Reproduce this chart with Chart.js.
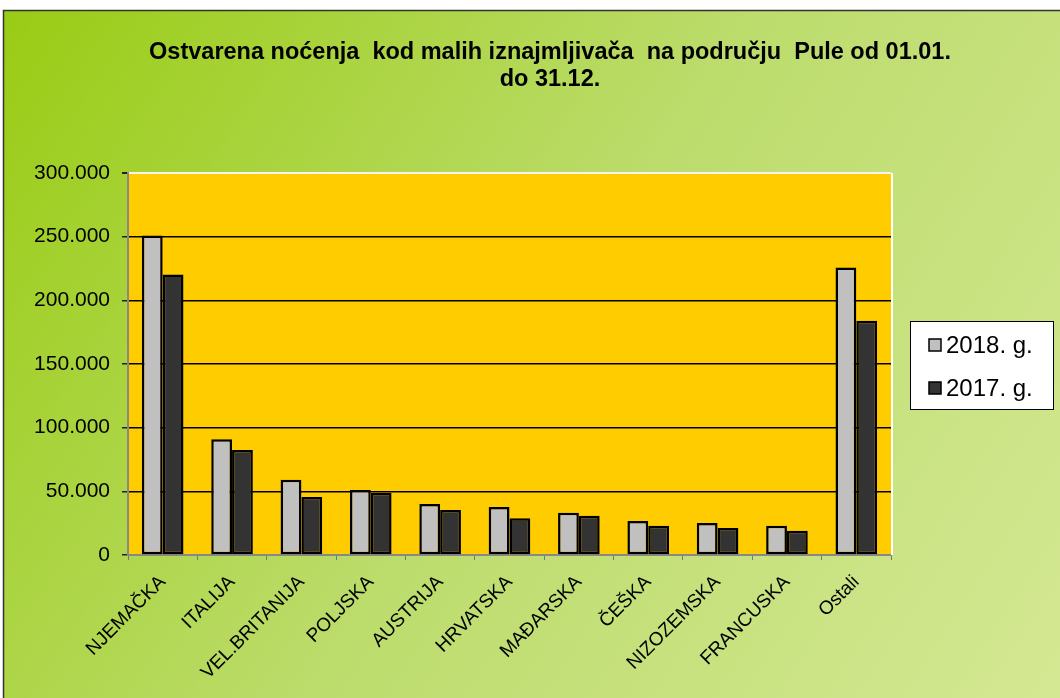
<!DOCTYPE html>
<html>
<head>
<meta charset="utf-8">
<script src="https://cdn.jsdelivr.net/npm/chart.js@4/dist/chart.umd.min.js"></script>
<style>
  html, body { margin: 0; padding: 0; background: #fff; }
  canvas { display: block; }
</style>
</head>
<body>
<canvas id="nocenjaChart" width="1060" height="698"></canvas>
<script>
const categories = ['NJEMAČKA', 'ITALIJA', 'VEL.BRITANIJA', 'POLJSKA', 'AUSTRIJA', 'HRVATSKA', 'MAĐARSKA', 'ČEŠKA', 'NIZOZEMSKA', 'FRANCUSKA', 'Ostali'];
const values2018 = [251000, 91000, 59000, 51000, 40000, 37700, 33200, 26700, 25100, 23000, 225800];
const values2017 = [220300, 82400, 45500, 48900, 35300, 28800, 30900, 23000, 21200, 19100, 183900];
const seriesLabels = ['2018. g.', '2017. g.'];
const titleLines = ['Ostvarena noćenja  kod malih iznajmljivača  na području  Pule od 01.01.', 'do 31.12.'];

const FONT = 'Arial, "Liberation Sans", sans-serif';

// green frame + yellow plot area
const backgroundPlugin = {
  id: 'background',
  beforeDraw(chart) {
    const { ctx, width, height, chartArea } = chart;
    ctx.save();
    ctx.fillStyle = '#ffffff';
    ctx.fillRect(0, 0, width, height);
    const g = ctx.createLinearGradient(3, 10, width, height);
    g.addColorStop(0, '#99cc14');
    g.addColorStop(0.5, '#bcdc6c');
    g.addColorStop(1, '#d4e893');
    ctx.fillStyle = g;
    ctx.fillRect(3, 10, width - 3, height - 10);
    ctx.strokeStyle = '#333';
    ctx.lineWidth = 1.5;
    ctx.beginPath();
    ctx.moveTo(3.5, height);
    ctx.lineTo(3.5, 10.5);
    ctx.lineTo(width, 10.5);
    ctx.stroke();
    ctx.fillStyle = '#ffcc00';
    ctx.fillRect(chartArea.left, chartArea.top, chartArea.right - chartArea.left, chartArea.bottom - chartArea.top);
    ctx.restore();
  },
  afterDraw(chart) {
    const { ctx, chartArea } = chart;
    ctx.save();
    // right edge of plot area
    ctx.strokeStyle = '#ffffff';
    ctx.lineWidth = 2;
    ctx.beginPath();
    ctx.moveTo(chartArea.right + 1, chartArea.top);
    ctx.lineTo(chartArea.right + 1, chartArea.bottom);
    ctx.stroke();

    // title
    ctx.fillStyle = '#000';
    ctx.font = 'bold 23.5px ' + FONT;
    ctx.textAlign = 'center';
    ctx.textBaseline = 'middle';
    ctx.fillText(titleLines[0], 550, 53);
    ctx.fillText(titleLines[1], 550, 80);

    // legend
    ctx.fillStyle = '#ffffff';
    ctx.fillRect(910, 321, 143, 88);
    ctx.strokeStyle = '#000';
    ctx.lineWidth = 1;
    ctx.strokeRect(910.5, 321.5, 143, 88);
    ctx.font = '24px ' + FONT;
    ctx.textAlign = 'left';
    chart.data.datasets.forEach((ds, i) => {
      const cy = 345 + i * 43;
      ctx.fillStyle = ds.backgroundColor;
      ctx.fillRect(929, cy - 6, 12, 12);
      ctx.strokeStyle = '#000';
      ctx.lineWidth = 1.5;
      ctx.strokeRect(929, cy - 6, 12, 12);
      ctx.fillStyle = '#000';
      ctx.fillText(ds.label, 946, cy + 1);
    });
    ctx.restore();
  }
};

const ctx = document.getElementById('nocenjaChart').getContext('2d');

const nocenjaChart = new Chart(ctx, {
  type: 'bar',
  data: {
    labels: categories,
    datasets: [
      {
        label: seriesLabels[0],
        data: values2018,
        backgroundColor: '#c0c0c0',
        borderColor: '#000000',
        borderWidth: 2.5,
        borderSkipped: false,
        categoryPercentage: 0.6,
        barPercentage: 1.0
      },
      {
        label: seriesLabels[1],
        data: values2017,
        backgroundColor: '#333333',
        borderColor: '#000000',
        borderWidth: 2.5,
        borderSkipped: false,
        categoryPercentage: 0.6,
        barPercentage: 1.0
      }
    ]
  },
  options: {
    responsive: false,
    animation: false,
    layout: {
      padding: { top: 173, left: 3, right: 169, bottom: 0 }
    },
    plugins: {
      legend: { display: false },
      title: { display: false },
      tooltip: { enabled: false }
    },
    scales: {
      x: {
        afterFit: (scale) => { scale.height = 143; },
        grid: {
          display: true,
          drawOnChartArea: false,
          drawTicks: true,
          tickLength: 5,
          tickColor: '#777777',
          offset: true
        },
        border: { display: true, color: '#888888', width: 2 },
        ticks: {
          color: '#000',
          font: { family: FONT, size: 19 },
          minRotation: 45,
          maxRotation: 45,
          autoSkip: false,
          padding: 11
        }
      },
      y: {
        min: 0,
        max: 300000,
        afterFit: (scale) => { scale.width = 125; },
        grid: {
          color: (c) => c.tick && c.tick.value === 300000 ? '#f4f4f4' : (c.tick && c.tick.value === 0 ? '#888888' : '#000000'),
          lineWidth: (c) => c.tick && c.tick.value === 300000 ? 2 : 1.5,
          tickLength: 6,
          tickColor: '#222222'
        },
        border: { display: true, color: '#888888', width: 2 },
        ticks: {
          stepSize: 50000,
          color: '#000',
          font: { family: FONT, size: 21 },
          padding: 12,
          callback: (value) => value === 0 ? '0' : value.toLocaleString('de-DE')
        }
      }
    }
  },
  plugins: [backgroundPlugin]
});
</script>
</body>
</html>
